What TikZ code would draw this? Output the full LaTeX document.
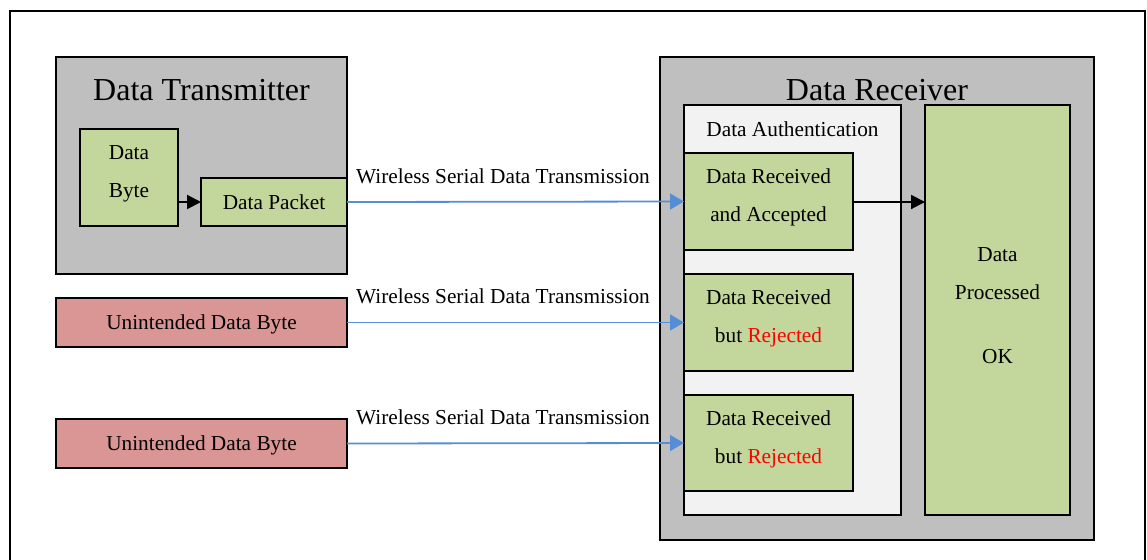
\documentclass[tikz,border=0pt]{standalone}
\usepackage{fontspec}
\setmainfont{Liberation Serif}
\usetikzlibrary{arrows.meta}
\definecolor{boxgray}{HTML}{BFBFBF}
\definecolor{boxgreen}{HTML}{C3D69B}
\definecolor{boxred}{HTML}{D99694}
\definecolor{authfill}{HTML}{F2F2F2}
\definecolor{linkblue}{HTML}{558ED5}
\definecolor{rejred}{HTML}{FF0000}
\tikzset{
  base box/.style={draw=black, line width=1.8pt, rectangle, anchor=north west,
    inner sep=0pt, outer sep=0pt, align=center,
    font=\fontsize{21.3}{38}\selectfont},
  graybox/.style={base box, fill=boxgray},
  greenbox/.style={base box, fill=boxgreen},
  twoline/.style={text depth=12.6pt},
  redbox/.style={base box, fill=boxred, text depth=0pt},
  authbox/.style={base box, fill=authfill},
  title/.style={anchor=base, inner sep=0pt, font=\fontsize{32}{38}\selectfont},
  plain/.style={anchor=base, inner sep=0pt, font=\fontsize{21.3}{38}\selectfont},
  wlabel/.style={anchor=base west, inner sep=0pt, font=\fontsize{21.3}{38}\selectfont},
  blackarrow/.style={draw=black, line width=2pt, -{Triangle[length=14pt,width=14pt]}},
  bluearrow/.style={draw=linkblue, line width=1.8pt, -{Triangle[length=14pt,width=16pt]}},
}
\begin{document}
\begin{tikzpicture}[x=1pt, y=-1pt]
\useasboundingbox (0,0) rectangle (1147,559);
% outer frame, open at the bottom edge of the page
\draw[line width=1.4pt] (10,565) -- (10,11) -- (1145,11) -- (1145,565);

% transmitter side
\node[graybox, minimum width=291, minimum height=217] (tx) at (56,57) {};
\node[title] (txtitle) at (201.5,100) {Data Transmitter};
\node[greenbox, twoline, minimum width=98, minimum height=97] (byte) at (80,129) {Data\\Byte};
\node[greenbox, minimum width=146, minimum height=48] (packet) at (201,178) {Data Packet};

% stray senders
\node[redbox, minimum width=291, minimum height=49] (un1) at (56,298) {Unintended Data Byte};
\node[redbox, minimum width=291, minimum height=49] (un2) at (56,419) {Unintended Data Byte};

% receiver side
\node[graybox, minimum width=434, minimum height=483] (rx) at (660,57) {};
\node[title] (rxtitle) at (877,100) {Data Receiver};
\node[authbox, minimum width=217, minimum height=410] (auth) at (684,105) {};
\node[plain] (authtitle) at (792.5,136) {Data Authentication};
\node[greenbox, twoline, minimum width=169, minimum height=97] (acc) at (684,153) {Data Received\\and Accepted};
\node[greenbox, twoline, minimum width=169, minimum height=97] (rej1) at (684,274) {Data Received\\but \textcolor{rejred}{Rejected}};
\node[greenbox, twoline, minimum width=169, minimum height=96] (rej2) at (684,395) {Data Received\\but \textcolor{rejred}{Rejected}};
\node[greenbox, text depth=8pt, minimum width=145, minimum height=410] (proc) at (925,105) {Data\\Processed\\[26pt]OK};

% connectors
\draw[blackarrow] (byte.east |- packet.west) -- (packet.west);
\draw[bluearrow] (packet.east) -- (acc.west);
\draw[bluearrow] (un1.east) -- (rej1.west);
\draw[bluearrow] (un2.east) -- (rej2.west);
\draw[blackarrow] ([yshift=-0.5pt]acc.east) -- ([yshift=-0.5pt]acc.east -| proc.west);

% link labels
\node[wlabel] (w1) at (356,183) {Wireless Serial Data Transmission};
\node[wlabel] (w2) at (356,303) {Wireless Serial Data Transmission};
\node[wlabel] (w3) at (356,424) {Wireless Serial Data Transmission};
\end{tikzpicture}
\end{document}
